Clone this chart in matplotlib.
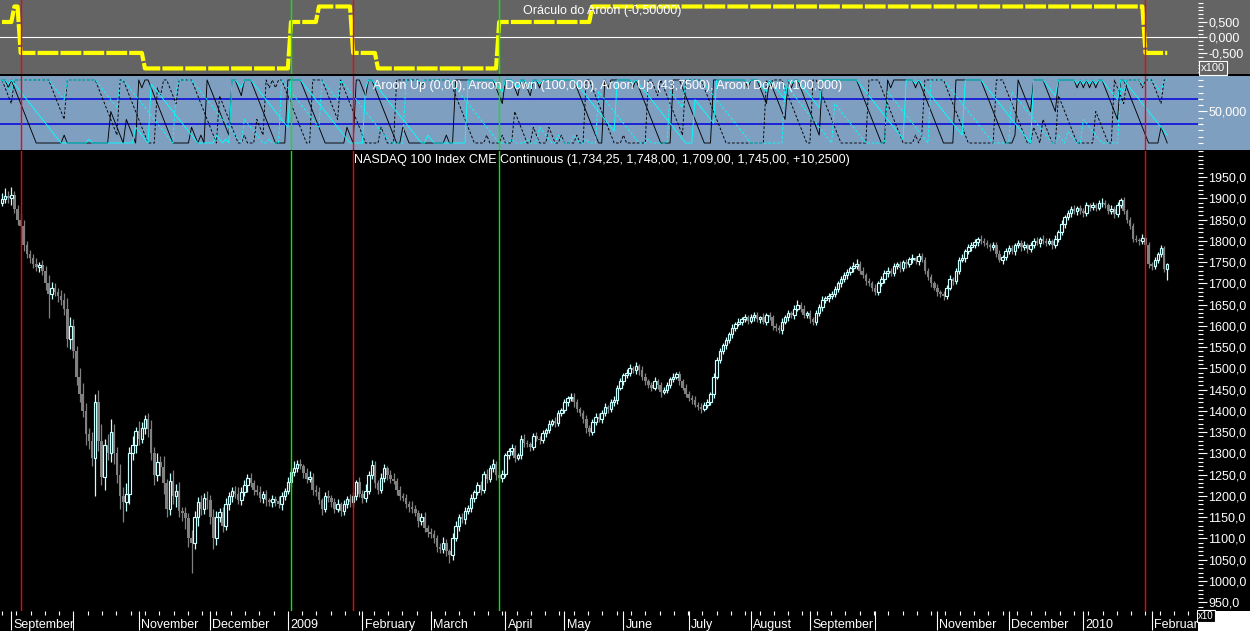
import numpy as np
import matplotlib
matplotlib.use("Agg")
import matplotlib.pyplot as plt
from matplotlib.patches import Rectangle
from matplotlib.ticker import FixedLocator, MultipleLocator

plt.rcParams['font.family'] = ['Liberation Sans', 'DejaVu Sans']

# daily closes, NASDAQ 100 CME continuous (Sep 2008 - Feb 2010)
closes = [
    1898, 1905, 1900, 1908, 1875, 1850, 1835, 1790, 1770, 1760,
    1745, 1738, 1742, 1730, 1700, 1675, 1690, 1680, 1670, 1660,
    1640, 1570, 1600, 1540, 1480, 1440, 1400, 1345, 1330, 1290,
    1420, 1330, 1245, 1320, 1300, 1350, 1300, 1250, 1200, 1185,
    1205, 1300, 1320, 1352, 1335, 1360, 1382, 1358, 1300, 1250,
    1280, 1268, 1230, 1170, 1235, 1200, 1212, 1165, 1160, 1148,
    1100, 1090, 1150, 1185, 1170, 1196, 1190, 1150, 1100, 1150,
    1162, 1130, 1180, 1200, 1212, 1205, 1190, 1210, 1225, 1242,
    1230, 1215, 1210, 1195, 1205, 1190, 1185, 1192, 1188, 1180,
    1200, 1212, 1232, 1256, 1266, 1275, 1270, 1255, 1240, 1245,
    1215, 1210, 1190, 1170, 1200, 1195, 1185, 1170, 1180, 1165,
    1180, 1192, 1185, 1200, 1232, 1205, 1195, 1212, 1250, 1272,
    1230, 1215, 1242, 1265, 1250, 1240, 1235, 1215, 1200, 1195,
    1180, 1175, 1170, 1160, 1140, 1150, 1125, 1115, 1110, 1100,
    1080, 1075, 1090, 1070, 1060, 1102, 1130, 1150, 1145, 1165,
    1172, 1195, 1210, 1225, 1215, 1252, 1240, 1265, 1276, 1250,
    1242, 1252, 1296, 1305, 1312, 1290, 1296, 1335, 1325, 1322,
    1315, 1340, 1335, 1332, 1348, 1356, 1370, 1376, 1372, 1395,
    1402, 1420, 1430, 1432, 1420, 1405, 1395, 1380, 1360, 1350,
    1375, 1386, 1380, 1395, 1410, 1405, 1420, 1426, 1455, 1470,
    1485, 1490, 1500, 1495, 1506, 1495, 1480, 1470, 1460, 1455,
    1470, 1460, 1445, 1450, 1460, 1475, 1480, 1486, 1470, 1455,
    1440, 1430, 1425, 1415, 1410, 1405, 1415, 1420, 1440, 1480,
    1520, 1540, 1555, 1566, 1580, 1595, 1605, 1610, 1615, 1620,
    1612, 1620, 1626, 1615, 1620, 1610, 1625, 1620, 1600, 1595,
    1590, 1610, 1620, 1630, 1625, 1640, 1650, 1640, 1625, 1630,
    1615, 1610, 1630, 1645, 1660, 1665, 1670, 1676, 1686, 1700,
    1710, 1720, 1726, 1735, 1740, 1746, 1730, 1720, 1705, 1700,
    1690, 1680, 1700, 1710, 1725, 1730, 1725, 1740, 1745, 1735,
    1750, 1745, 1756, 1760, 1752, 1765, 1755, 1730, 1715, 1700,
    1690, 1680, 1675, 1670, 1690, 1710, 1705, 1730, 1755, 1760,
    1775, 1785, 1790, 1796, 1805, 1800, 1795, 1790, 1785, 1790,
    1770, 1755, 1762, 1776, 1783, 1775, 1790, 1795, 1785, 1790,
    1780, 1790, 1800, 1795, 1805, 1800, 1795, 1800, 1790, 1805,
    1820, 1840, 1855, 1865, 1875, 1870, 1876, 1870, 1865, 1885,
    1880, 1884, 1878, 1888, 1890, 1885, 1870, 1875, 1862, 1885,
    1895, 1870, 1850, 1835, 1805, 1802, 1800, 1807, 1790, 1745,
    1740, 1755, 1768, 1782, 1734.75, 1745,
]
first_open = 1890

# wick lengths above / below the body (points)
wick_up = [
    15, 20, 12, 18, 10, 8, 12, 15, 10, 8,
    10, 15, 8, 12, 10, 20, 12, 10, 8, 15,
    18, 25, 20, 15, 12, 20, 25, 18, 15, 20,
    20, 30, 40, 15, 25, 30, 20, 15, 25, 20,
    25, 15, 20, 10, 25, 15, 8, 12, 20, 15,
    20, 15, 25, 10, 18, 25, 15, 20, 10, 15,
    12, 20, 15, 12, 18, 10, 15, 12, 20, 15,
    10, 12, 15, 10, 8, 12, 15, 10, 12, 10,
    12, 8, 10, 14, 6, 10, 5, 11, 8, 12,
    10, 7, 12, 9, 16, 10, 12, 6, 10, 13,
    8, 11, 12, 5, 10, 14, 7, 10, 12, 6,
    10, 8, 13, 9, 6, 12, 10, 15, 9, 12,
    10, 7, 12, 10, 5, 10, 13, 8, 9, 6,
    10, 8, 12, 9, 7, 10, 12, 6, 10, 11,
    8, 10, 13, 9, 6, 10, 12, 7, 10, 8,
    7, 10, 5, 8, 11, 6, 12, 8, 10, 7,
    9, 8, 5, 7, 10, 8, 6, 9, 11, 7,
    5, 8, 10, 6, 8, 4, 9, 6, 10, 7,
    5, 8, 6, 9, 10, 7, 5, 8, 11, 6,
    5, 8, 10, 6, 9, 4, 8, 10, 6, 7,
    5, 9, 10, 6, 8, 5, 11, 8, 6, 7,
    10, 5, 8, 6, 9, 4, 10, 6, 7, 5,
    8, 6, 7, 10, 5, 8, 6, 9, 5, 8,
    6, 7, 5, 8, 6, 9, 4, 8, 6, 7,
    5, 8, 6, 7, 4, 10, 6, 8, 5, 7,
    6, 9, 5, 7, 6, 8, 11, 5, 8, 6,
    7, 5, 8, 6, 9, 5, 7, 6, 8, 5,
    8, 6, 7, 5, 9, 10, 6, 8, 5, 7,
    6, 8, 5, 7, 6, 9, 5, 8, 6, 7,
    5, 8, 6, 9, 5, 7, 6, 8, 5, 7,
    6, 8, 5, 7, 6, 9, 5, 7, 6, 8,
    5, 7, 6, 9, 5, 8, 6, 7, 5, 8,
    6, 9, 5, 7, 6, 8, 5, 7, 6, 9,
    5, 7, 6, 8, 5, 9, 6, 7, 5, 8,
    6, 8, 5, 7, 6, 9, 5, 8, 6, 7,
    5, 8, 6, 9, 10, 7, 5, 8, 6, 7,
    6, 8, 5, 7, 6, 9, 5, 8, 6, 7,
    6, 8, 5, 7, 6, 3,
]
wick_dn = [
    8, 10, 12, 15, 10, 12, 8, 15, 10, 12,
    10, 8, 12, 10, 15, 57, 12, 10, 15, 12,
    15, 20, 25, 15, 20, 18, 15, 25, 20, 20,
    90, 25, 20, 30, 15, 20, 25, 20, 30, 46,
    20, 25, 15, 20, 15, 10, 15, 20, 15, 25,
    15, 20, 25, 20, 15, 20, 25, 15, 20, 25,
    20, 70, 15, 20, 15, 12, 20, 15, 25, 15,
    12, 15, 10, 12, 15, 10, 8, 12, 10, 15,
    10, 12, 8, 10, 12, 14, 8, 10, 12, 9,
    12, 10, 8, 12, 9, 10, 7, 12, 10, 8,
    12, 9, 10, 14, 8, 10, 12, 9, 7, 12,
    10, 8, 12, 10, 9, 7, 12, 10, 8, 10,
    12, 10, 8, 9, 12, 10, 7, 12, 10, 8,
    9, 12, 10, 8, 12, 9, 10, 12, 8, 10,
    12, 9, 10, 12, 18, 10, 8, 12, 9, 10,
    8, 10, 9, 7, 12, 8, 10, 7, 9, 12,
    8, 10, 7, 9, 8, 10, 6, 8, 9, 7,
    10, 8, 6, 9, 7, 10, 8, 6, 9, 7,
    8, 6, 9, 7, 10, 8, 6, 9, 12, 8,
    6, 9, 7, 8, 6, 9, 7, 8, 10, 6,
    8, 7, 9, 6, 8, 10, 7, 8, 6, 9,
    7, 8, 12, 6, 9, 7, 8, 6, 9, 7,
    8, 6, 9, 7, 8, 10, 6, 8, 7, 9,
    6, 8, 7, 9, 6, 8, 7, 6, 9, 7,
    8, 6, 9, 7, 8, 6, 9, 7, 10, 8,
    7, 9, 6, 8, 7, 9, 6, 8, 7, 6,
    9, 7, 8, 6, 9, 7, 8, 6, 9, 7,
    8, 6, 9, 7, 8, 6, 9, 7, 8, 6,
    9, 7, 8, 6, 9, 10, 7, 8, 6, 9,
    7, 8, 6, 9, 7, 8, 6, 9, 7, 8,
    6, 9, 7, 10, 8, 6, 9, 7, 8, 6,
    9, 7, 8, 6, 9, 7, 8, 6, 9, 7,
    8, 6, 9, 7, 8, 6, 9, 7, 8, 6,
    9, 7, 8, 6, 9, 7, 8, 6, 9, 7,
    8, 6, 9, 7, 8, 6, 9, 7, 8, 6,
    9, 7, 8, 6, 9, 7, 8, 6, 9, 7,
    8, 6, 9, 7, 8, 6, 9, 7, 8, 9,
    9, 6, 8, 7, 9, 26,
]

month_start_bar = [3, 23, 44, 67, 92, 116, 138, 162, 181, 200, 221, 241, 260, 281, 301, 324, 348, 370]
month_labels = ["September", "", "November", "December", "2009", "February", "March", "April",
                "May", "June", "July", "August", "September", "", "November", "December", "2010", "February"]

signal_bar = [6, 93, 113, 160, 368]
signal_kind = ["sell", "buy", "sell", "buy", "sell"]

# "Oráculo do Aroon" step values
oracle_start = [0, 4, 6, 46, 93, 102, 113, 121, 160, 190, 368]
oracle_level = [0.5, 1, -0.5, -1, 0.5, 1, -0.5, -1, 0.5, 1, -0.5]

aroon_fast = 8
aroon_slow = 16

close = np.array(closes, float)
n = len(close)
bars = np.arange(n)
opn = np.r_[first_open, close[:-1]]
high = np.maximum(opn, close) + np.array(wick_up, float)
low = np.minimum(opn, close) - np.array(wick_dn, float)
oracle = np.array(oracle_level)[np.searchsorted(oracle_start, bars, side="right") - 1]


def aroon(h, l, period):
    up = np.zeros(len(h))
    dn = np.zeros(len(h))
    for i in range(len(h)):
        s = max(0, i - period)
        up[i] = 100.0 * (period - np.argmax(h[s:i + 1][::-1])) / period
        dn[i] = 100.0 * (period - np.argmin(l[s:i + 1][::-1])) / period
    return up, dn


up_f, dn_f = aroon(high, low, aroon_fast)
up_s, dn_s = aroon(high, low, aroon_slow)

W, H = 1250, 631
GRAY = "#646464"
BLUE = "#7f9fc1"
UPC = "#c8ffff"
DNC = "#808080"


def rect(x0, y0, x1, y1):
    return [x0 / W, 1 - y1 / H, (x1 - x0) / W, (y1 - y0) / H]


fig = plt.figure(figsize=(12.5, 6.31), dpi=100, facecolor="black")
ax_top = fig.add_axes(rect(0, 0, 1198, 74))
ax_mid = fig.add_axes(rect(0, 76, 1198, 150))
ax_bot = fig.add_axes(rect(0, 151, 1198, 611))

# right axis strips
for (y0, y1, c) in [(0, 74, GRAY), (76, 150, BLUE), (611, 631, "white")]:
    fig.add_artist(Rectangle((1198 / W, 1 - y1 / H), 52 / W, (y1 - y0) / H,
                             transform=fig.transFigure, facecolor=c, edgecolor="none", zorder=-1))


def right_axis(ax, major, labels, minor):
    ax.yaxis.tick_right()
    ax.set_yticks(major)
    ax.set_yticklabels(labels)
    ax.yaxis.set_minor_locator(FixedLocator(minor))
    ax.tick_params(axis="y", which="major", direction="out", length=6.5, width=0.8,
                   colors="white", labelsize=9, pad=1)
    ax.tick_params(axis="y", which="minor", direction="out", length=3.5, width=0.8, color="white")
    for s in ax.spines.values():
        s.set_visible(False)


for ax in (ax_top, ax_mid, ax_bot):
    ax.set_xlim(-0.65, 384.9)
    for b, k in zip(signal_bar, signal_kind):
        ax.axvline(b, color="#ff0000" if k == "sell" else "#00ee00", lw=1.0, zorder=6)

# top panel
ax_top.set_facecolor(GRAY)
ax_top.set_ylim(-1.18, 1.21)
ax_top.axhline(0, color="white", lw=0.8)
ax_top.plot(bars, oracle, color="#ffff00", lw=3, dashes=(5, 0.5), solid_capstyle="butt")
right_axis(ax_top, [0.5, 0, -0.5], ["0,500", "0,000", "-0,500"], np.arange(-1.125, 1.2, 0.125))
ax_top.set_xticks([])

# middle panel
ax_mid.set_facecolor(BLUE)
ax_mid.set_ylim(-11.1, 106.3)
ax_mid.axhline(70, color="#0000dd", lw=1.1)
ax_mid.axhline(30, color="#0000dd", lw=1.1)
ax_mid.plot(bars, up_f, color="black", lw=0.65)
ax_mid.plot(bars, dn_f, color="black", lw=0.65, dashes=(3, 2))
ax_mid.plot(bars, up_s, color="#00ffff", lw=0.65)
ax_mid.plot(bars, dn_s, color="#00ffff", lw=0.65, dashes=(3, 2))
right_axis(ax_mid, [50], ["50,000"], np.arange(0, 101, 10))
ax_mid.set_xticks([])

# price panel
ax_bot.set_facecolor("black")
ax_bot.set_ylim(929.5, 2011.1)
up = close >= opn
dn = ~up
ax_bot.vlines(bars[dn], low[dn], high[dn], color=DNC, lw=0.9, zorder=2)
ax_bot.bar(bars[dn], (opn - close)[dn], bottom=close[dn], width=0.85, color=DNC, zorder=2)
ax_bot.vlines(bars[up], low[up], high[up], color=UPC, lw=0.9, zorder=3)
ax_bot.bar(bars[up], (close - opn)[up], bottom=opn[up], width=0.8, facecolor="black",
           edgecolor=UPC, lw=0.85, zorder=4)
price_ticks = np.arange(950, 1951, 50)
right_axis(ax_bot, price_ticks, [f"{v:.1f}".replace(".", ",") for v in price_ticks],
           np.arange(940, 2011, 10))

ax_bot.set_xticks(month_start_bar)
ax_bot.set_xticklabels([""] * len(month_start_bar))
ax_bot.xaxis.set_minor_locator(MultipleLocator(4.6))
ax_bot.tick_params(axis="x", which="major", direction="out", length=14, width=0.8, color="white")
ax_bot.tick_params(axis="x", which="minor", direction="out", length=3, width=0.8, color="white")
for b, lab in zip(month_start_bar, month_labels):
    ax_bot.annotate(lab, xy=(b, 0), xycoords=("data", "axes fraction"), xytext=(1.5, -10),
                    textcoords="offset points", ha="left", va="center", color="white",
                    fontsize=9, annotation_clip=False)

# titles
fig.text(523 / W, 1 - 11 / H, "Oráculo do Aroon (-0,50000)", color="white", fontsize=9, va="center")
fig.text(373 / W, 1 - 86 / H,
         "Aroon Up (0,00), Aroon Down (100,000), Aroon Up (43,7500), Aroon Down (100,000)",
         color="white", fontsize=9, va="center")
fig.text(354 / W, 1 - 160 / H,
         "NASDAQ 100 Index CME Continuous (1,734,25, 1,748,00, 1,709,00, 1,745,00, +10,2500)",
         color="white", fontsize=9, va="center")

fig.text(1213 / W, 1 - 68 / H, "x100", color="white", fontsize=8, ha="center", va="center",
         bbox=dict(boxstyle="square,pad=0.15", fc=GRAY, ec="white", lw=0.8))
fig.text(1206 / W, 1 - 616 / H, "x10", color="white", fontsize=7, ha="center", va="center",
         bbox=dict(boxstyle="square,pad=0.08", fc="black", ec="white", lw=0.8), zorder=10)

fig.savefig("out.png", dpi=100, facecolor="black")
